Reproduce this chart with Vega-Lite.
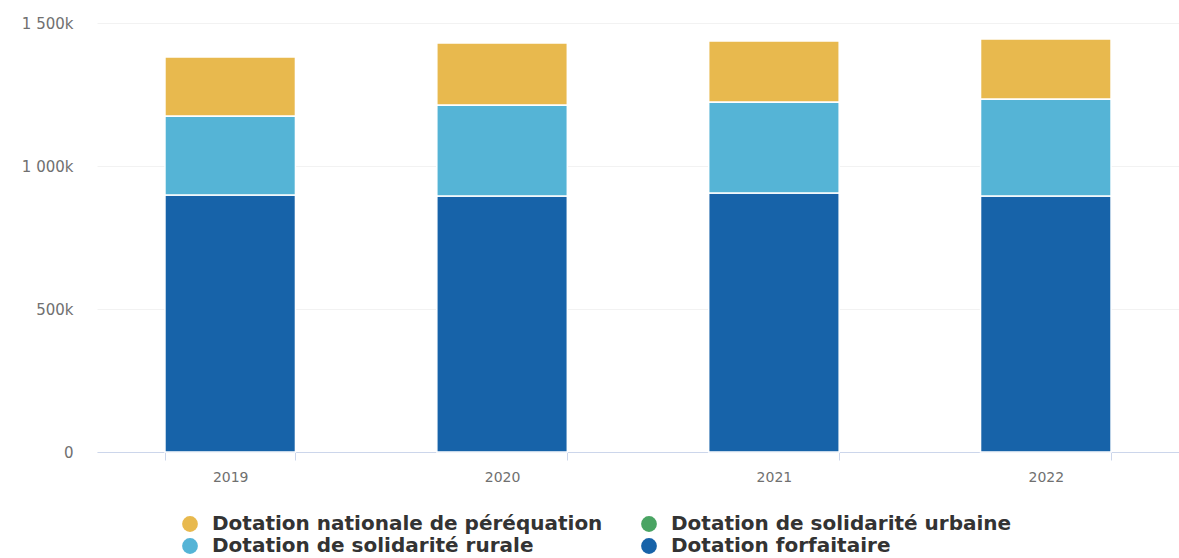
{
  "$schema": "https://vega.github.io/schema/vega-lite/v6.json",
  "autosize": "none",
  "width": 1082,
  "height": 429,
  "padding": {"left": 97, "top": 23, "right": 0, "bottom": 106},
  "background": "white",
  "data": {
    "values": [
      {"annee": "2019", "serie": "Dotation forfaitaire", "rang": 1, "montant": 899000},
      {"annee": "2019", "serie": "Dotation de solidarité rurale", "rang": 2, "montant": 276000},
      {"annee": "2019", "serie": "Dotation de solidarité urbaine", "rang": 3, "montant": 0},
      {"annee": "2019", "serie": "Dotation nationale de péréquation", "rang": 4, "montant": 206000},
      {"annee": "2020", "serie": "Dotation forfaitaire", "rang": 1, "montant": 895000},
      {"annee": "2020", "serie": "Dotation de solidarité rurale", "rang": 2, "montant": 318000},
      {"annee": "2020", "serie": "Dotation de solidarité urbaine", "rang": 3, "montant": 0},
      {"annee": "2020", "serie": "Dotation nationale de péréquation", "rang": 4, "montant": 217000},
      {"annee": "2021", "serie": "Dotation forfaitaire", "rang": 1, "montant": 906000},
      {"annee": "2021", "serie": "Dotation de solidarité rurale", "rang": 2, "montant": 318000},
      {"annee": "2021", "serie": "Dotation de solidarité urbaine", "rang": 3, "montant": 0},
      {"annee": "2021", "serie": "Dotation nationale de péréquation", "rang": 4, "montant": 213000},
      {"annee": "2022", "serie": "Dotation forfaitaire", "rang": 1, "montant": 895000},
      {"annee": "2022", "serie": "Dotation de solidarité rurale", "rang": 2, "montant": 339000},
      {"annee": "2022", "serie": "Dotation de solidarité urbaine", "rang": 3, "montant": 0},
      {"annee": "2022", "serie": "Dotation nationale de péréquation", "rang": 4, "montant": 210000}
    ]
  },
  "mark": {"type": "bar", "stroke": "white", "strokeWidth": 1.5},
  "encoding": {
    "x": {
      "field": "annee",
      "type": "nominal",
      "title": null,
      "scale": {"paddingInner": 0.52, "paddingOuter": 0.25},
      "axis": {
        "labelAngle": 0,
        "labelColor": "#707070",
        "labelFont": "DejaVu Sans",
        "labelFontSize": 14,
        "labelPadding": 10,
        "domainColor": "#ccd6eb",
        "tickColor": "#ccd6eb",
        "tickBand": "extent",
        "tickSize": 8,
        "grid": false
      }
    },
    "y": {
      "field": "montant",
      "type": "quantitative",
      "stack": "zero",
      "title": null,
      "scale": {"domain": [0, 1500000], "nice": false},
      "axis": {
        "values": [0, 500000, 1000000, 1500000],
        "labelExpr": "datum.value == 0 ? '0' : replace(format(datum.value / 1000, ','), ',', ' ') + 'k'",
        "labelColor": "#707070",
        "labelFont": "DejaVu Sans",
        "labelFontSize": 15,
        "labelPadding": 24,
        "domain": false,
        "ticks": false,
        "gridColor": "#f2f2f2",
        "gridWidth": 1
      }
    },
    "color": {
      "field": "serie",
      "type": "nominal",
      "title": null,
      "scale": {
        "domain": ["Dotation nationale de péréquation", "Dotation de solidarité urbaine", "Dotation de solidarité rurale", "Dotation forfaitaire"],
        "range": ["#e8b94e", "#4aa463", "#55b4d6", "#1763a9"]
      },
      "legend": {
        "orient": "none",
        "legendX": 83,
        "legendY": 491,
        "direction": "horizontal",
        "columns": 2,
        "gridAlign": "none",
        "columnPadding": 36,
        "rowPadding": 2,
        "symbolType": "circle",
        "symbolSize": 250,
        "symbolStrokeWidth": 0,
        "labelFont": "DejaVu Sans",
        "labelFontSize": 20,
        "labelFontWeight": "bold",
        "labelColor": "#333333",
        "labelOffset": 12,
        "labelLimit": 600
      }
    },
    "order": {"field": "rang", "type": "quantitative", "sort": "ascending"}
  },
  "config": {"view": {"stroke": null}}
}
